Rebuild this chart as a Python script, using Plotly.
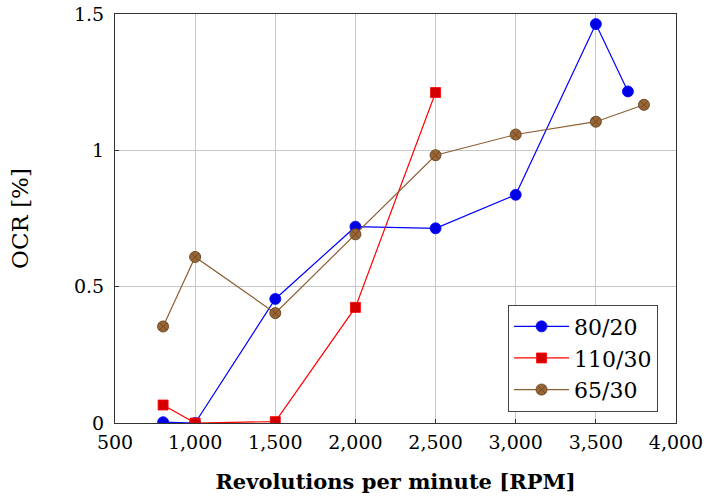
import plotly.graph_objects as go

rpm_80_20 = [800, 1000, 1500, 2000, 2500, 3000, 3500, 3700]
ocr_80_20 = [0.003, 0.0, 0.455, 0.72, 0.714, 0.837, 1.463, 1.216]

rpm_110_30 = [800, 1000, 1500, 2000, 2500]
ocr_110_30 = [0.066, 0.0, 0.005, 0.424, 1.212]

rpm_65_30 = [800, 1000, 1500, 2000, 2500, 3000, 3500, 3800]
ocr_65_30 = [0.354, 0.609, 0.403, 0.692, 0.982, 1.058, 1.105, 1.167]

x_ticks = [500, 1000, 1500, 2000, 2500, 3000, 3500, 4000]
y_ticks = [0, 0.5, 1, 1.5]

FONT = "DejaVu Serif"

fig = go.Figure()
fig.add_trace(go.Scatter(
    x=rpm_80_20, y=ocr_80_20, name="80/20", mode="lines+markers",
    line=dict(color="#0000ff", width=1.2),
    marker=dict(symbol="circle", size=11, color="#0000e6", line=dict(color="#0000ff", width=0.8)),
))
fig.add_trace(go.Scatter(
    x=rpm_110_30, y=ocr_110_30, name="110/30", mode="lines+markers",
    line=dict(color="#ff0000", width=1.2),
    marker=dict(symbol="square", size=10, color="#d40000", line=dict(color="#ff0000", width=0.8)),
))
fig.add_trace(go.Scatter(
    x=rpm_65_30, y=ocr_65_30, name="65/30", mode="lines+markers",
    line=dict(color="#8c5f33", width=1.2),
    marker=dict(symbol="circle-x", size=11, color="#9a6633", line=dict(color="#6e4a28", width=1)),
))

fig.update_layout(
    width=708, height=503,
    margin=dict(l=115, r=32, t=14, b=80),
    paper_bgcolor="white", plot_bgcolor="white",
    font=dict(family=FONT, size=19, color="black"),
    showlegend=True,
    legend=dict(
        x=0.968, y=0.028, xanchor="right", yanchor="bottom",
        bordercolor="#444444", borderwidth=1, bgcolor="white",
        font=dict(family=FONT, size=22),
        itemwidth=55, tracegroupgap=2,
    ),
)
fig.update_xaxes(
    range=[500, 4000], tickvals=x_ticks, ticktext=[f"{v:,}" for v in x_ticks],
    showgrid=True, gridcolor="#c8c8c8", gridwidth=1,
    showline=True, linecolor="#333333", linewidth=1, mirror=True,
    ticks="inside", ticklen=4, tickcolor="#333333", zeroline=False,
    title=dict(text="<b>Revolutions per minute [RPM]</b>", font=dict(family=FONT, size=21), standoff=22),
    tickfont=dict(family=FONT, size=19),
    ticklabelstandoff=2,
    automargin=False,
)
fig.update_yaxes(
    range=[0, 1.5], tickvals=y_ticks, ticktext=["0", "0.5", "1", "1.5"],
    showgrid=True, gridcolor="#c8c8c8", gridwidth=1,
    showline=True, linecolor="#333333", linewidth=1, mirror=True,
    ticks="inside", ticklen=4, tickcolor="#333333", zeroline=False,
    title=dict(text="OCR [%]", font=dict(family=FONT, size=23), standoff=38),
    tickfont=dict(family=FONT, size=19),
    ticklabelstandoff=6,
    automargin=False,
)

fig.write_html("out.html")
